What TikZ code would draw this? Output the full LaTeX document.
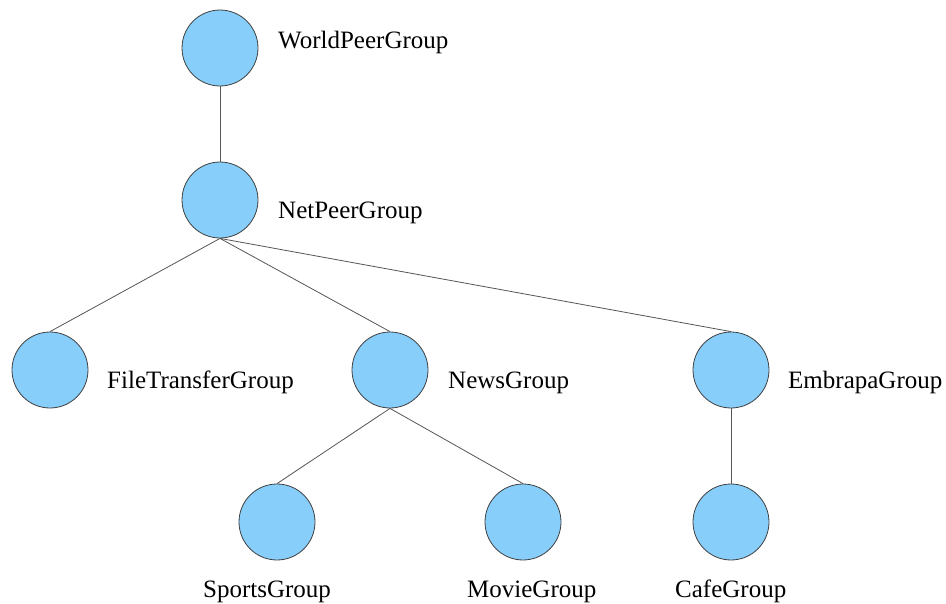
\documentclass[tikz,border=0pt]{standalone}
\usepackage{fontspec}
\setmainfont{Liberation Serif}
\definecolor{nodefill}{HTML}{87CEFA}
\definecolor{nodeline}{HTML}{404040}
\definecolor{edgeline}{HTML}{555555}
\begin{document}
\begin{tikzpicture}[x=1pt,y=-1pt,
  grp/.style={circle,minimum size=76pt,inner sep=0pt,fill=nodefill,draw=nodeline,line width=0.8pt},
  lbl/.style={anchor=base west,inner sep=0pt,font=\fontsize{25}{29}\selectfont},
  edge/.style={draw=edgeline,line width=0.8pt}]
\useasboundingbox (0,0) rectangle (946,603);
% nodes
\node[grp] (world) at (220,48) {};
\node[grp] (net) at (220,200) {};
\node[grp] (ft) at (50,370) {};
\node[grp] (news) at (390,370) {};
\node[grp] (emb) at (731,370) {};
\node[grp] (sports) at (277,522) {};
\node[grp] (movie) at (523,522) {};
\node[grp] (cafe) at (731,522) {};
% labels
\node[lbl] (lworld) at (278,48) {WorldPeerGroup};
\node[lbl] (lnet) at (278,218) {NetPeerGroup};
\node[lbl] (lft) at (107,388) {FileTransferGroup};
\node[lbl] (lnews) at (448,388) {NewsGroup};
\node[lbl] (lemb) at (788,388) {EmbrapaGroup};
\node[lbl] (lsports) at (203,597) {SportsGroup};
\node[lbl] (lmovie) at (467,597) {MovieGroup};
\node[lbl] (lcafe) at (675,597) {CafeGroup};
% edges
\draw[edge] (world.south) -- (net.north);
\draw[edge] (net.south) -- (ft.north);
\draw[edge] (net.south) -- (news.north);
\draw[edge] (net.south) -- (emb.north);
\draw[edge] (news.south) -- (sports.north);
\draw[edge] (news.south) -- (movie.north);
\draw[edge] (emb.south) -- (cafe.north);
\end{tikzpicture}
\end{document}
